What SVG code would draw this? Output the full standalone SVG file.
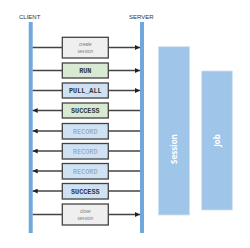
<svg xmlns="http://www.w3.org/2000/svg" width="250" height="248" viewBox="0 0 250 248">
<defs>
<marker id="ah" viewBox="0 0 10 10" refX="10" refY="5" markerWidth="6.5" markerHeight="5" markerUnits="userSpaceOnUse" orient="auto">
<path d="M0,0 L10,5 L0,10 z" fill="#222"/>
</marker>
<style>
.lbl{font-family:"Liberation Sans",Arial,sans-serif;font-size:6px;fill:#333}
.life{fill:#6fa8dc}
.msg{stroke:#434343;stroke-width:1.3;fill:none;marker-end:url(#ah)}
.box{stroke:#434343;stroke-width:1.3}
.gray{fill:#efefef}
.green{fill:#d9ead3}
.blue{fill:#cfe2f3}
.it{font-family:"Liberation Sans",Arial,sans-serif;font-style:italic;font-size:4.6px;fill:#777;text-anchor:middle}
.bold{font-family:"Liberation Mono","Courier New",monospace;font-weight:bold;font-size:6.8px;fill:#333;text-anchor:middle}
.rec{font-family:"Liberation Mono","Courier New",monospace;font-size:6.8px;fill:#8a9aaa;text-anchor:middle}
.ctx{fill:#9fc5e8;stroke:#cfe2f3;stroke-width:0.8}
.ctxt{font-family:"Open Sans","Liberation Sans",sans-serif;font-weight:bold;font-size:8px;fill:#fff;text-anchor:middle}
</style>
</defs>
<g id="client">
<text class="lbl" x="19" y="19">CLIENT</text>
<rect class="life" x="28.7" y="22" width="4" height="211"/>
</g>
<g id="server">
<text class="lbl" x="129" y="19">SERVER</text>
<rect class="life" x="140" y="22" width="4" height="211"/>
</g>
<g id="connectors">
<line class="msg" x1="32.7" y1="47.5" x2="140" y2="47.5"/>
<line class="msg" x1="32.7" y1="70.5" x2="140" y2="70.5"/>
<line class="msg" x1="32.7" y1="90.5" x2="140" y2="90.5"/>
<line class="msg" x1="140" y1="110.5" x2="32.7" y2="110.5"/>
<line class="msg" x1="140" y1="131" x2="32.7" y2="131"/>
<line class="msg" x1="140" y1="151" x2="32.7" y2="151"/>
<line class="msg" x1="140" y1="171" x2="32.7" y2="171"/>
<line class="msg" x1="140" y1="191" x2="32.7" y2="191"/>
<line class="msg" x1="32.7" y1="214.5" x2="140" y2="214.5"/>
</g>
<g id="create-session">
<rect class="box gray" x="62.3" y="37.3" width="46" height="20.7"/>
<text class="it" x="85.3" y="46">create</text>
<text class="it" x="85.3" y="52.5">session</text>
</g>
<g id="run">
<rect class="box green" x="62.3" y="63" width="46" height="15"/>
<text class="bold" x="85.3" y="72.8">RUN</text>
</g>
<g id="pull-all">
<rect class="box blue" x="62.3" y="83" width="46" height="15"/>
<text class="bold" x="85.3" y="92.8">PULL_ALL</text>
</g>
<g id="success-1">
<rect class="box green" x="62.3" y="103" width="46" height="15"/>
<text class="bold" x="85.3" y="112.8">SUCCESS</text>
</g>
<g id="record-1">
<rect class="box blue" x="62.3" y="123.5" width="46" height="15.5"/>
<text class="rec" x="85.3" y="133.5">RECORD</text>
</g>
<g id="record-2">
<rect class="box blue" x="62.3" y="143.5" width="46" height="15.5"/>
<text class="rec" x="85.3" y="153.5">RECORD</text>
</g>
<g id="record-3">
<rect class="box blue" x="62.3" y="163.5" width="46" height="15.5"/>
<text class="rec" x="85.3" y="173.5">RECORD</text>
</g>
<g id="success-2">
<rect class="box blue" x="62.3" y="183.5" width="46" height="15.5"/>
<text class="bold" x="85.3" y="193.5">SUCCESS</text>
</g>
<g id="close-session">
<rect class="box gray" x="62.3" y="204" width="46" height="21"/>
<text class="it" x="85.3" y="213">close</text>
<text class="it" x="85.3" y="219.5">session</text>
</g>
<g id="session">
<rect class="ctx" x="158.5" y="46.7" width="31" height="168.3"/>
<text class="ctxt" transform="translate(176.5,149) rotate(-90)">Session</text>
</g>
<g id="job">
<rect class="ctx" x="201.7" y="71" width="30.6" height="139"/>
<text class="ctxt" transform="translate(219.5,140.5) rotate(-90)">Job</text>
</g>
</svg>
